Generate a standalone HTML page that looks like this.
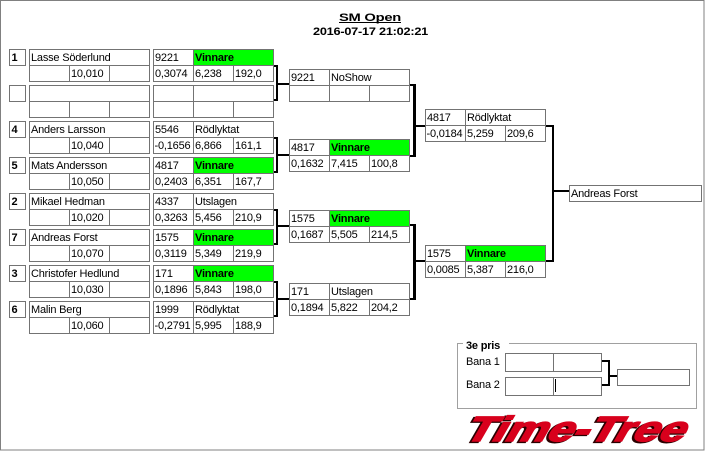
<!DOCTYPE html>
<html><head><meta charset="utf-8"><style>
html,body{margin:0;padding:0;background:#fff;}
svg{display:block;}
text{font-family:"Liberation Sans",Arial,sans-serif;font-size:11px;fill:#000;letter-spacing:-0.2px;}
.b{font-weight:bold;}
.box{fill:none;stroke:#737373;stroke-width:1;}
.ln{stroke:#737373;stroke-width:1;fill:none;}
.br{fill:#000;}
</style></head><body>
<svg width="706" height="452" viewBox="0 0 706 452" xmlns="http://www.w3.org/2000/svg" shape-rendering="crispEdges">
<rect x="0" y="0" width="706" height="452" fill="#fff"/>
<rect x="0.5" y="0.5" width="703.5" height="449.5" fill="none" stroke="#808080"/>

<!-- Title -->
<text class="b" x="339" y="21" font-size="11.5" textLength="62" lengthAdjust="spacingAndGlyphs">SM Open</text>
<rect x="339" y="22" width="62" height="1" fill="#000"/>
<text class="b" x="313" y="35" font-size="11" textLength="115" lengthAdjust="spacingAndGlyphs">2016-07-17 21:02:21</text>

<!-- Round 1 entries -->
<g transform="translate(0,49)">
<rect x="194" y="1" width="79" height="15" fill="#00ff00"/>
<rect class="box" x="9.5" y="0.5" width="16" height="16"/>
<rect class="box" x="29.5" y="0.5" width="120" height="32"/>
<path class="ln" d="M29 16.5H150M69.5 16V33M109.5 16V33"/>
<rect class="box" x="153.5" y="0.5" width="120" height="32"/>
<path class="ln" d="M153 16.5H274M193.5 0V33M233.5 16V33"/>
<text class="b" x="11.5" y="12">1</text>
<text x="31" y="12">Lasse Söderlund</text>
<text x="71" y="28">10,010</text>
<text x="155" y="12">9221</text>
<text class="b" x="195" y="12">Vinnare</text>
<text x="155" y="28">0,3074</text>
<text x="195" y="28">6,238</text>
<text x="235" y="28">192,0</text>
</g>
<g transform="translate(0,85)">
<rect class="box" x="9.5" y="0.5" width="16" height="16"/>
<rect class="box" x="29.5" y="0.5" width="120" height="32"/>
<path class="ln" d="M29 16.5H150M69.5 16V33M109.5 16V33"/>
<rect class="box" x="153.5" y="0.5" width="120" height="32"/>
<path class="ln" d="M153 16.5H274M193.5 0V33M233.5 16V33"/>
</g>
<g transform="translate(0,121)">
<rect class="box" x="9.5" y="0.5" width="16" height="16"/>
<rect class="box" x="29.5" y="0.5" width="120" height="32"/>
<path class="ln" d="M29 16.5H150M69.5 16V33M109.5 16V33"/>
<rect class="box" x="153.5" y="0.5" width="120" height="32"/>
<path class="ln" d="M153 16.5H274M193.5 0V33M233.5 16V33"/>
<text class="b" x="11.5" y="12">4</text>
<text x="31" y="12">Anders Larsson</text>
<text x="71" y="28">10,040</text>
<text x="155" y="12">5546</text>
<text x="195" y="12">Rödlyktat</text>
<text x="154.5" y="28">-0,1656</text>
<text x="195" y="28">6,866</text>
<text x="235" y="28">161,1</text>
</g>
<g transform="translate(0,157)">
<rect x="194" y="1" width="79" height="15" fill="#00ff00"/>
<rect class="box" x="9.5" y="0.5" width="16" height="16"/>
<rect class="box" x="29.5" y="0.5" width="120" height="32"/>
<path class="ln" d="M29 16.5H150M69.5 16V33M109.5 16V33"/>
<rect class="box" x="153.5" y="0.5" width="120" height="32"/>
<path class="ln" d="M153 16.5H274M193.5 0V33M233.5 16V33"/>
<text class="b" x="11.5" y="12">5</text>
<text x="31" y="12">Mats Andersson</text>
<text x="71" y="28">10,050</text>
<text x="155" y="12">4817</text>
<text class="b" x="195" y="12">Vinnare</text>
<text x="155" y="28">0,2403</text>
<text x="195" y="28">6,351</text>
<text x="235" y="28">167,7</text>
</g>
<g transform="translate(0,193)">
<rect class="box" x="9.5" y="0.5" width="16" height="16"/>
<rect class="box" x="29.5" y="0.5" width="120" height="32"/>
<path class="ln" d="M29 16.5H150M69.5 16V33M109.5 16V33"/>
<rect class="box" x="153.5" y="0.5" width="120" height="32"/>
<path class="ln" d="M153 16.5H274M193.5 0V33M233.5 16V33"/>
<text class="b" x="11.5" y="12">2</text>
<text x="31" y="12">Mikael Hedman</text>
<text x="71" y="28">10,020</text>
<text x="155" y="12">4337</text>
<text x="195" y="12">Utslagen</text>
<text x="155" y="28">0,3263</text>
<text x="195" y="28">5,456</text>
<text x="235" y="28">210,9</text>
</g>
<g transform="translate(0,229)">
<rect x="194" y="1" width="79" height="15" fill="#00ff00"/>
<rect class="box" x="9.5" y="0.5" width="16" height="16"/>
<rect class="box" x="29.5" y="0.5" width="120" height="32"/>
<path class="ln" d="M29 16.5H150M69.5 16V33M109.5 16V33"/>
<rect class="box" x="153.5" y="0.5" width="120" height="32"/>
<path class="ln" d="M153 16.5H274M193.5 0V33M233.5 16V33"/>
<text class="b" x="11.5" y="12">7</text>
<text x="31" y="12">Andreas Forst</text>
<text x="71" y="28">10,070</text>
<text x="155" y="12">1575</text>
<text class="b" x="195" y="12">Vinnare</text>
<text x="155" y="28">0,3119</text>
<text x="195" y="28">5,349</text>
<text x="235" y="28">219,9</text>
</g>
<g transform="translate(0,265)">
<rect x="194" y="1" width="79" height="15" fill="#00ff00"/>
<rect class="box" x="9.5" y="0.5" width="16" height="16"/>
<rect class="box" x="29.5" y="0.5" width="120" height="32"/>
<path class="ln" d="M29 16.5H150M69.5 16V33M109.5 16V33"/>
<rect class="box" x="153.5" y="0.5" width="120" height="32"/>
<path class="ln" d="M153 16.5H274M193.5 0V33M233.5 16V33"/>
<text class="b" x="11.5" y="12">3</text>
<text x="31" y="12">Christofer Hedlund</text>
<text x="71" y="28">10,030</text>
<text x="155" y="12">171</text>
<text class="b" x="195" y="12">Vinnare</text>
<text x="155" y="28">0,1896</text>
<text x="195" y="28">5,843</text>
<text x="235" y="28">198,0</text>
</g>
<g transform="translate(0,301)">
<rect class="box" x="9.5" y="0.5" width="16" height="16"/>
<rect class="box" x="29.5" y="0.5" width="120" height="32"/>
<path class="ln" d="M29 16.5H150M69.5 16V33M109.5 16V33"/>
<rect class="box" x="153.5" y="0.5" width="120" height="32"/>
<path class="ln" d="M153 16.5H274M193.5 0V33M233.5 16V33"/>
<text class="b" x="11.5" y="12">6</text>
<text x="31" y="12">Malin Berg</text>
<text x="71" y="28">10,060</text>
<text x="155" y="12">1999</text>
<text x="195" y="12">Rödlyktat</text>
<text x="154.5" y="28">-0,2791</text>
<text x="195" y="28">5,995</text>
<text x="235" y="28">188,9</text>
</g>

<!-- Round 1 brackets -->
<g class="br">
<rect x="274" y="65" width="4" height="2"/><rect x="276" y="65" width="2" height="36"/><rect x="274" y="99" width="4" height="2"/><rect x="276" y="83" width="13" height="2"/>
<rect x="274" y="137" width="4" height="2"/><rect x="276" y="137" width="2" height="36"/><rect x="274" y="171" width="4" height="2"/><rect x="276" y="154" width="13" height="2"/>
<rect x="274" y="209" width="4" height="2"/><rect x="276" y="209" width="2" height="36"/><rect x="274" y="243" width="4" height="2"/><rect x="276" y="225" width="13" height="2"/>
<rect x="274" y="281" width="4" height="2"/><rect x="276" y="281" width="2" height="36"/><rect x="274" y="315" width="4" height="2"/><rect x="276" y="298" width="13" height="2"/>
</g>

<!-- Round 2 boxes -->
<g transform="translate(0,69)">
<rect class="box" x="289.5" y="0.5" width="120" height="32"/>
<path class="ln" d="M289 16.5H410M329.5 0V33M369.5 16V33"/>
<text x="291" y="12">9221</text>
<text x="331" y="12">NoShow</text>
</g>
<g transform="translate(0,139)">
<rect x="330" y="1" width="79" height="15" fill="#00ff00"/>
<rect class="box" x="289.5" y="0.5" width="120" height="32"/>
<path class="ln" d="M289 16.5H410M329.5 0V33M369.5 16V33"/>
<text x="291" y="12">4817</text>
<text class="b" x="331" y="12">Vinnare</text>
<text x="291" y="28">0,1632</text>
<text x="331" y="28">7,415</text>
<text x="371" y="28">100,8</text>
</g>
<g transform="translate(0,210)">
<rect x="330" y="1" width="79" height="15" fill="#00ff00"/>
<rect class="box" x="289.5" y="0.5" width="120" height="32"/>
<path class="ln" d="M289 16.5H410M329.5 0V33M369.5 16V33"/>
<text x="291" y="12">1575</text>
<text class="b" x="331" y="12">Vinnare</text>
<text x="291" y="28">0,1687</text>
<text x="331" y="28">5,505</text>
<text x="371" y="28">214,5</text>
</g>
<g transform="translate(0,283)">
<rect class="box" x="289.5" y="0.5" width="120" height="32"/>
<path class="ln" d="M289 16.5H410M329.5 0V33M369.5 16V33"/>
<text x="291" y="12">171</text>
<text x="331" y="12">Utslagen</text>
<text x="291" y="28">0,1894</text>
<text x="331" y="28">5,822</text>
<text x="371" y="28">204,2</text>
</g>

<!-- Round 2 brackets -->
<g class="br">
<rect x="410" y="84" width="6" height="2"/><rect x="413" y="84" width="3" height="73"/><rect x="410" y="155" width="6" height="2"/><rect x="413" y="125" width="12" height="2"/>
<rect x="410" y="224" width="6" height="2"/><rect x="413" y="224" width="3" height="76"/><rect x="410" y="298" width="6" height="2"/><rect x="413" y="260" width="12" height="2"/>
</g>

<!-- Round 3 boxes -->
<g transform="translate(0,109)">
<rect class="box" x="425.5" y="0.5" width="120" height="32"/>
<path class="ln" d="M425 16.5H546M465.5 0V33M505.5 16V33"/>
<text x="427" y="12">4817</text>
<text x="467" y="12">Rödlyktat</text>
<text x="426.5" y="28">-0,0184</text>
<text x="467" y="28">5,259</text>
<text x="507" y="28">209,6</text>
</g>
<g transform="translate(0,245)">
<rect x="466" y="1" width="79" height="15" fill="#00ff00"/>
<rect class="box" x="425.5" y="0.5" width="120" height="32"/>
<path class="ln" d="M425 16.5H546M465.5 0V33M505.5 16V33"/>
<text x="427" y="12">1575</text>
<text class="b" x="467" y="12">Vinnare</text>
<text x="427" y="28">0,0085</text>
<text x="467" y="28">5,387</text>
<text x="507" y="28">216,0</text>
</g>

<!-- Round 3 bracket -->
<g class="br">
<rect x="546" y="125" width="8" height="2"/><rect x="552" y="125" width="2" height="137"/><rect x="546" y="260" width="8" height="2"/><rect x="552" y="190" width="17" height="2"/>
</g>

<!-- Final -->
<rect class="box" x="569.5" y="185.5" width="132" height="16"/>
<text x="571" y="197">Andreas Forst</text>

<!-- 3e pris -->
<rect x="457.5" y="343.5" width="239" height="65" fill="none" stroke="#a0a0a0"/>
<rect x="463" y="338" width="46" height="10" fill="#fff"/>
<text class="b" x="466" y="349">3e pris</text>
<text x="466" y="365">Bana 1</text>
<text x="466" y="388">Bana 2</text>
<rect class="box" x="505.5" y="353.5" width="96" height="18"/>
<path class="ln" d="M553.5 353V372"/>
<rect class="box" x="505.5" y="377.5" width="96" height="18"/>
<path class="ln" d="M553.5 377V396"/>
<rect x="555" y="379" width="1" height="13" fill="#000"/>
<g class="br">
<rect x="602" y="360" width="8" height="2"/><rect x="608" y="360" width="2" height="26"/><rect x="602" y="384" width="8" height="2"/><rect x="608" y="375" width="10" height="2"/>
</g>
<rect class="box" x="617.5" y="369.5" width="72" height="16"/>

<!-- Logo -->
<g transform="translate(462,441) skewX(-30)" shape-rendering="auto">
<text x="-1.5" y="1" textLength="220" lengthAdjust="spacingAndGlyphs" style="fill:#2a0000;font-size:35px;font-weight:bold;letter-spacing:0" stroke="#2a0000" stroke-width="2.2">Time-Tree</text>
<text x="0" y="0" textLength="220" lengthAdjust="spacingAndGlyphs" style="fill:#d8001c;font-size:35px;font-weight:bold;letter-spacing:0" stroke="#d8001c" stroke-width="1.6">Time-Tree</text>
</g>
</svg>
</body></html>
